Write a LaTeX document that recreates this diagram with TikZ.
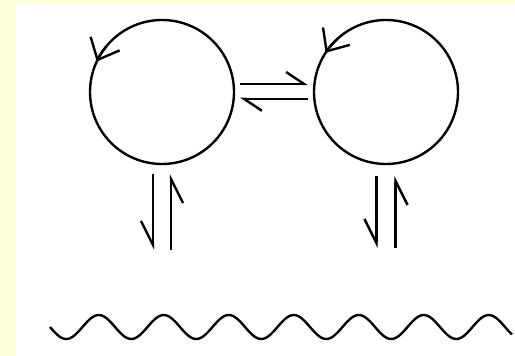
\documentclass[tikz,border=0pt]{standalone}
\usepackage{tikz}
\usetikzlibrary{arrows.meta,positioning}
\definecolor{paper}{RGB}{255,255,215}

\begin{document}
\begin{tikzpicture}[
    line width=1.7pt,
    ring/.style={draw=black, circle, minimum size=3.6cm, inner sep=0pt, outer sep=0pt},
    spin/.style={-{Straight Barb[length=0.45cm, width=0.8cm]}},
    harp/.style={-{Straight Barb[harpoon, length=0.45cm, width=0.6cm]}},
    vharp/.style={-{Straight Barb[harpoon, swap, length=0.6cm, width=0.6cm]}}
]

% Background
\useasboundingbox (0, 0) rectangle (12.875, 8.9);
\fill[paper] (0, 0) rectangle (12.875, 8.9);
\fill[white] (0.4, 0) rectangle (12.875, 8.8);

% Nodes
\node[ring] (lring) at (4.05, 6.6) {};
\node[ring] (rring) at (9.65, 6.6) {};
\coordinate (lsurf) at (4.05, 2.65);
\coordinate (rsurf) at (9.65, 2.7);

% Rotation
\draw[spin] (lring.140) arc[start angle=140, end angle=155, radius=1.8cm];
\draw[spin] (rring.132) arc[start angle=132, end angle=147, radius=1.8cm];

% Connections
\draw[harp] ([shift={(0.15, 0.2)}]lring.east) -- ([shift={(-0.15, 0.2)}]rring.west);
\draw[harp] ([shift={(-0.15, -0.17)}]rring.west) -- ([shift={(0.15, -0.17)}]lring.east);

\draw[vharp] ([shift={(-0.225, -0.25)}]lring.south) -- ([xshift=-0.225cm]lsurf);
\draw[vharp] ([xshift=0.225cm]lsurf) -- ([shift={(0.225, -0.25)}]lring.south);

\draw[vharp] ([shift={(-0.24, -0.3)}]rring.south) -- ([xshift=-0.24cm]rsurf);
\draw[vharp] ([xshift=0.24cm]rsurf) -- ([shift={(0.24, -0.3)}]rring.south);

% Surface
\draw[line join=round] plot[domain=1.25:12.8, samples=200] (\x, {0.725 - 0.3*sin(360*(\x - 1.25)/1.625)});

\end{tikzpicture}
\end{document}
